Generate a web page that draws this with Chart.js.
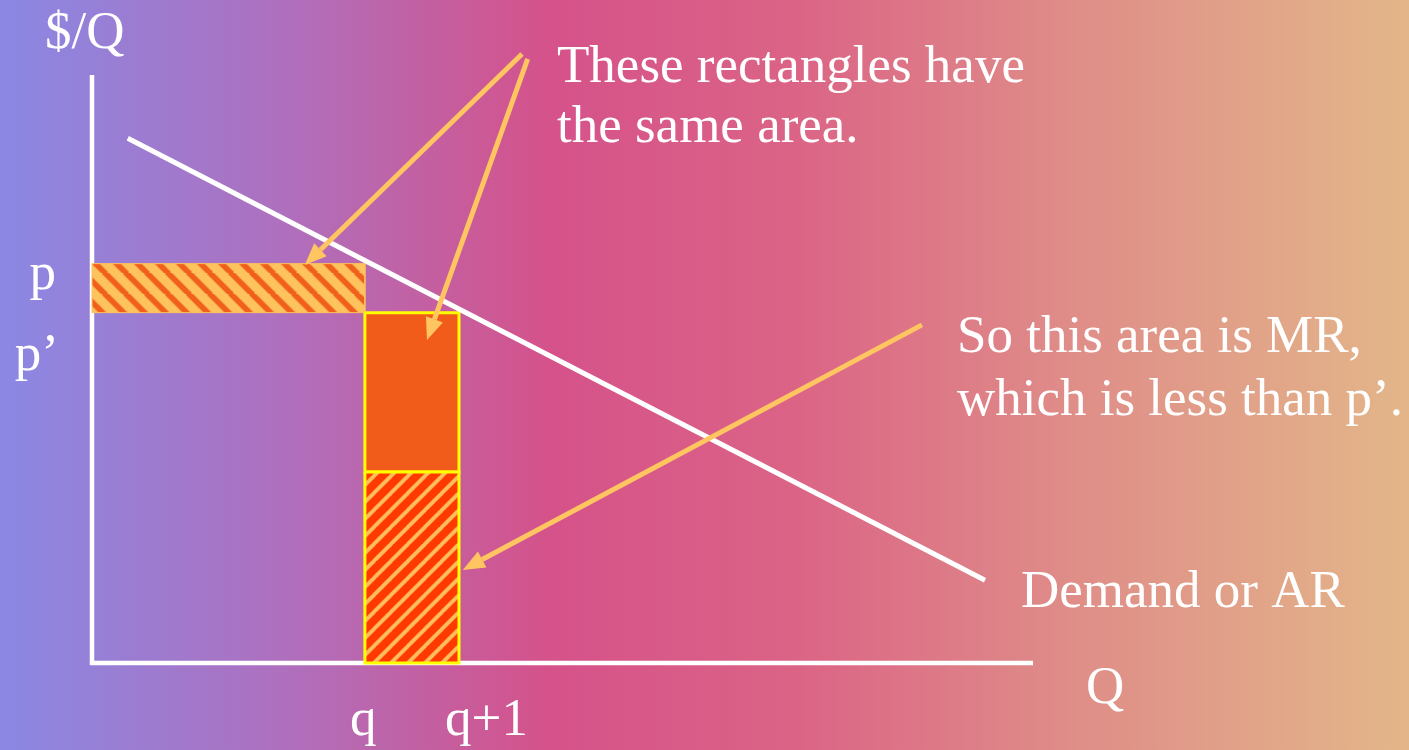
<!DOCTYPE html>
<html>
<head>
<meta charset="utf-8">
<title>Marginal revenue of one more unit</title>
<script src="https://cdn.jsdelivr.net/npm/chart.js@4"></script>
<style>
  html, body { margin: 0; padding: 0; overflow: hidden; background: #d4548a; }
  #wrap { width: 1409px; height: 750px; position: relative; }
</style>
</head>
<body>
<div id="wrap"><canvas id="c" width="1409" height="750"></canvas></div>
<script>
// Axis extents in plot units: quantity (Q) and price ($/Q)
const qRange = [0, 10];
const priceRange = [0, 12];

// Output level q and the next unit q+1
const quantities = [2.9, 3.9];
// p = price at q, p' = price at q+1
const prices = [8.15, 7.15];
// Revenue from the extra unit (top of the hatched column)
const marginalRevenue = [3.9];

// Demand / average revenue line end points
const demandQ = [0.38, 9.49];
const demandP = [10.71, 1.69];

// Tick labels
const qTickLabels = ['q', 'q+1'];
const priceTickLabels = ['p', 'p\u2019'];

// Annotation arrows, tail -> head, in plot units
const arrowFromQ = [4.57, 4.63, 8.82];
const arrowFromP = [12.43, 12.33, 6.90];
const arrowToQ = [2.26, 3.56, 3.94];
const arrowToP = [8.12, 6.59, 1.90];

const canvas = document.getElementById('c');
const ctx = canvas.getContext('2d');
const FONT = '53px "Liberation Serif", "Times New Roman", serif';

// Diagonal stripe fill. dir > 0 : "/" stripes, dir < 0 : "\" stripes
function stripes(size, bg, fg, width, dir) {
  const t = document.createElement('canvas');
  t.width = t.height = size;
  const g = t.getContext('2d');
  g.fillStyle = bg;
  g.fillRect(0, 0, size, size);
  g.strokeStyle = fg;
  const pass = (lw, alpha) => {
    g.globalAlpha = alpha;
    g.lineWidth = lw;
    for (let k = -1; k <= 1; k++) {
      g.beginPath();
      if (dir > 0) {
        g.moveTo(k * size - 1, size + 1);
        g.lineTo(k * size + size + 1, -1);
      } else {
        g.moveTo(k * size - 1, -1);
        g.lineTo(k * size + size + 1, size + 1);
      }
      g.stroke();
    }
  };
  pass(width * 1.35, 0.4);
  pass(width, 1);
  return ctx.createPattern(t, 'repeat');
}

// Closed rectangle outline as scatter points
function rect(q0, q1, p0, p1) {
  return [
    { x: q0, y: p0 }, { x: q1, y: p0 }, { x: q1, y: p1 },
    { x: q0, y: p1 }, { x: q0, y: p0 }
  ];
}

const [q, q1] = quantities;
const [p, pPrime] = prices;
const mr = marginalRevenue[0];

const backdrop = {
  id: 'backdrop',
  beforeDraw(chart) {
    const c = chart.ctx;
    const g = c.createLinearGradient(0, 0, chart.width, 0);
    g.addColorStop(0.00, '#8a88e4');
    g.addColorStop(0.20, '#ae70be');
    g.addColorStop(0.39, '#d5528a');
    g.addColorStop(0.56, '#db6386');
    g.addColorStop(0.76, '#df8d88');
    g.addColorStop(1.00, '#e3b689');
    c.save();
    c.fillStyle = g;
    c.fillRect(0, 0, chart.width, chart.height);
    c.restore();
  },
  beforeDatasetsDraw(chart) {
    // white axes
    const a = chart.chartArea;
    const c = chart.ctx;
    c.save();
    c.strokeStyle = '#ffffff';
    c.lineWidth = 4.5;
    c.beginPath();
    c.moveTo(a.left, a.top);
    c.lineTo(a.left, a.bottom + 2);
    c.moveTo(a.left - 2, a.bottom);
    c.lineTo(a.right, a.bottom);
    c.stroke();
    c.restore();
  }
};

const notes = {
  id: 'notes',
  afterDraw(chart) {
    const c = chart.ctx;
    const xs = chart.scales.x, ys = chart.scales.y;
    c.save();
    // arrows
    c.strokeStyle = '#ffc561';
    c.fillStyle = '#ffc561';
    c.lineWidth = 5;
    for (let i = 0; i < arrowFromQ.length; i++) {
      const x0 = xs.getPixelForValue(arrowFromQ[i]);
      const y0 = ys.getPixelForValue(arrowFromP[i]);
      const x1 = xs.getPixelForValue(arrowToQ[i]);
      const y1 = ys.getPixelForValue(arrowToP[i]);
      const ang = Math.atan2(y1 - y0, x1 - x0);
      const head = 22, half = 9;
      const bx = x1 - head * Math.cos(ang), by = y1 - head * Math.sin(ang);
      c.beginPath();
      c.moveTo(x0, y0);
      c.lineTo(bx, by);
      c.stroke();
      c.beginPath();
      c.moveTo(x1, y1);
      c.lineTo(bx + half * Math.sin(ang), by - half * Math.cos(ang));
      c.lineTo(bx - half * Math.sin(ang), by + half * Math.cos(ang));
      c.closePath();
      c.fill();
    }
    // text
    c.fillStyle = '#ffffff';
    c.font = FONT;
    c.textBaseline = 'alphabetic';
    c.textAlign = 'left';
    c.fillText('$/Q', 45, 48);
    c.fillText('Q', 1086, 703);
    c.fillText('These rectangles have', 557, 82);
    c.fillText('the same area.', 557, 142);
    c.fillText('So this area is MR,', 957, 352);
    c.fillText('which is less than p\u2019.', 957, 415);
    c.fillText('Demand or AR', 1021, 607);
    // price tick labels (right aligned left of the axis)
    c.textAlign = 'right';
    const pOff = [25, 57];
    priceTickLabels.forEach((t, i) => {
      c.fillText(t, i === 0 ? 56 : 59, ys.getPixelForValue(prices[i]) + pOff[i]);
    });
    // quantity tick labels
    c.textAlign = 'left';
    const qOff = [-15, -14];
    qTickLabels.forEach((t, i) => {
      c.fillText(t, xs.getPixelForValue(quantities[i]) + qOff[i], 735);
    });
    c.restore();
  }
};

const areaAtP = stripes(21, '#ffc35e', '#f0601c', 5, -1);
const areaMR = stripes(17, '#ff3a00', '#ffbd5e', 3.4, 1);

new Chart(ctx, {
  type: 'scatter',
  data: {
    datasets: [
      {
        label: 'Demand or AR',
        data: [{ x: demandQ[0], y: demandP[0] }, { x: demandQ[1], y: demandP[1] }],
        showLine: true, borderColor: '#ffffff', borderWidth: 5,
        pointRadius: 0, fill: false, order: 0, clip: false
      },
      {
        label: 'p times q',
        data: rect(0, q, p, pPrime),
        showLine: true, borderColor: '#ffc35e', borderWidth: 1,
        backgroundColor: areaAtP, fill: 'shape',
        pointRadius: 0, order: 3, clip: false
      },
      {
        label: 'p\u2019 on the extra unit',
        data: rect(q, q1, pPrime, mr),
        showLine: true, borderColor: '#ffff00', borderWidth: 3,
        backgroundColor: '#f25c1a', fill: 'shape',
        pointRadius: 0, order: 2, clip: false
      },
      {
        label: 'MR',
        data: rect(q, q1, mr, 0),
        showLine: true, borderColor: '#ffff00', borderWidth: 3,
        backgroundColor: areaMR, fill: 'shape',
        pointRadius: 0, order: 1, clip: false
      }
    ]
  },
  options: {
    responsive: false,
    animation: false,
    events: [],
    layout: { padding: { left: 92, right: 376, top: 75, bottom: 87 } },
    scales: {
      x: { type: 'linear', min: qRange[0], max: qRange[1], display: false },
      y: { type: 'linear', min: priceRange[0], max: priceRange[1], display: false }
    },
    plugins: {
      legend: { display: false },
      tooltip: { enabled: false },
      filler: { propagate: false }
    }
  },
  plugins: [backdrop, notes]
});
</script>
</body>
</html>
